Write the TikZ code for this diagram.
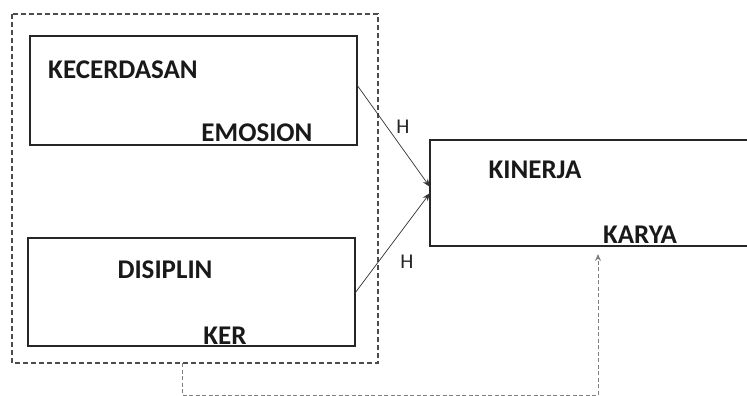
\documentclass[tikz,border=0pt]{standalone}
\usepackage{fontspec}
\setmainfont{Carlito}
\usetikzlibrary{arrows.meta}
\begin{document}
\begin{tikzpicture}[x=1pt,y=-1pt,
  boxstyle/.style={draw=black!85,line width=1.1pt},
  lbl/.style={font=\fontsize{27}{30}\selectfont\bfseries,inner sep=0pt,text=black!90},
  hlbl/.style={font=\fontsize{21}{24}\selectfont,inner sep=0pt,text=black!85},
  arr/.style={draw=black!80,line width=0.7pt,-{Stealth[length=8pt,width=6pt]}},
  outerdash/.style={draw=black!70,line width=1.3pt,dash pattern=on 5pt off 3pt},
  conndash/.style={draw=black!50,line width=1pt,dash pattern=on 4pt off 2.5pt}]
\useasboundingbox (0,0) rectangle (747,396);
% outer dashed group
\draw[outerdash] (12,14) rectangle (378,363);
\coordinate (gbot) at (182,363);
% boxes
\draw[boxstyle] (30,36) rectangle (357,145);
\draw[boxstyle] (28,238) rectangle (355,346);
\coordinate (kr1) at (747,140);
\coordinate (kr2) at (747,246);
\draw[boxstyle] (kr1) -- (430,140) -- (430,246) -- (kr2);
\coordinate (e1) at (357,85);
\coordinate (e2) at (355,293);
\coordinate (t1) at (430,187);
\coordinate (t2) at (430,193);
\coordinate (c1) at (182,395);
\coordinate (c2) at (598,395);
\coordinate (kt) at (598,254);
% labels
\node[lbl] (kec) at (123,70) {KECERDASAN};
\node[lbl] (emo) at (257,133) {EMOSION};
\node[lbl] (dis) at (165,270) {DISIPLIN};
\node[lbl] (ker) at (225,336) {KER};
\node[lbl] (kin) at (535,170) {KINERJA};
\node[lbl] (kar) at (640,235) {KARYA};
\node[hlbl] (h1) at (403,127) {H};
\node[hlbl] (h2) at (407,262) {H};
% arrows
\draw[arr] (e1) -- (t1);
\draw[arr] (e2) -- (t2);
\draw[conndash,-{Stealth[length=7pt,width=6pt]}] (gbot) -- (c1) -- (c2) -- (kt);
\end{tikzpicture}
\end{document}
